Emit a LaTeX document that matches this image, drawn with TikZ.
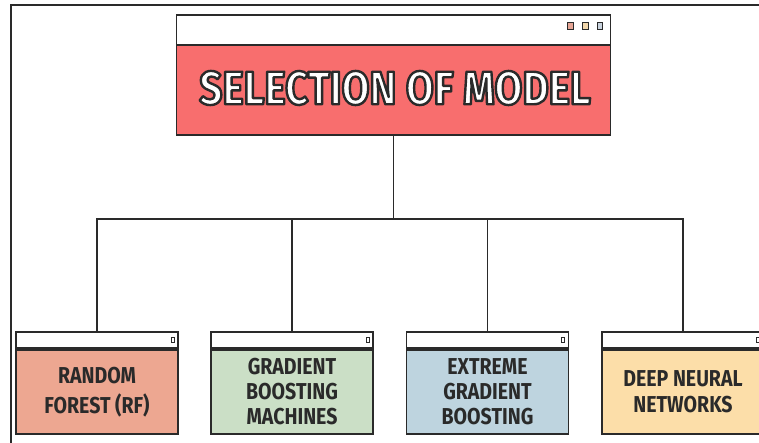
\documentclass[tikz,border=0pt]{standalone}
\usepackage{fontspec}
\setmainfont{Fira Sans}
\newfontfamily\boxfont{Fira Sans}[FakeStretch=0.85]
\newfontfamily\headfont{Fira Sans}[FakeStretch=0.86]
\definecolor{outl}{HTML}{2A2A2A}
\definecolor{redc}{HTML}{F86E6E}
\definecolor{rfc}{HTML}{EDA791}
\definecolor{gbmc}{HTML}{CBDFC6}
\definecolor{xgbc}{HTML}{BED4DF}
\definecolor{dnnc}{HTML}{FCDEA9}
\definecolor{sqa}{HTML}{E6A595}
\definecolor{sqb}{HTML}{F3D8AC}
\definecolor{sqc}{HTML}{C9D3DE}
\newcommand{\outlinedtext}[1]{\textcolor{white}{\special{pdf:literal direct 2 Tr 2.4 w 1 j 0.165 0.165 0.165 RG}#1\special{pdf:literal direct 0 Tr}}}
\tikzset{
  frame/.style={draw=outl, line width=2pt},
  winbar/.style={draw=outl, fill=white, line width=1.8pt, minimum width=162pt, minimum height=16pt, inner sep=0pt},
  winbody/.style={draw=outl, line width=1.8pt, minimum width=162pt, minimum height=84pt, inner sep=0pt,
    align=center, text=outl, font=\boxfont\bfseries\fontsize{23}{25}\selectfont},
  mini/.style={draw=outl, fill=white, line width=1pt, minimum width=3pt, minimum height=5pt, inner sep=0pt},
  dotsq/.style={draw=outl, line width=1pt, minimum width=5.5pt, minimum height=7.5pt, inner sep=0pt},
  conn/.style={draw=outl, line width=1.6pt},
}
\begin{document}
\begin{tikzpicture}[x=1pt,y=-1pt]
\path[use as bounding box, clip] (0,0) rectangle (759,442);
\fill[white] (0,0) rectangle (759,442);
% outer frame
\draw[frame] (10.5,460) -- (10.5,4.5) -- (780,4.5);
% top window
\node[draw=outl, fill=redc, line width=1.8pt, minimum width=434pt, minimum height=90pt, inner sep=0pt] (title) at (393.5,90) {};
\node[draw=outl, fill=white, line width=1.8pt, minimum width=434pt, minimum height=30pt, inner sep=0pt] (titlebar) at (393.5,30) {};
\node[inner sep=0pt] (titletext) at (395,88) {\headfont\bfseries\fontsize{47}{50}\selectfont\outlinedtext{SELECTION OF MODEL}};
\node[dotsq, fill=sqa] (d1) at (570.5,26) {};
\node[dotsq, fill=sqb] (d2) at (585.5,26) {};
\node[dotsq, fill=sqc] (d3) at (600,26) {};
% bottom windows
\node[winbar] (b1) at (97,340) {};
\node[winbody, fill=rfc, anchor=north] (n1) at (b1.south) {RANDOM\\[5pt]FOREST (RF)};
\node[mini] (m1) at (172.5,340) {};
\node[winbar] (b2) at (292,340) {};
\node[winbody, fill=gbmc, anchor=north] (n2) at (b2.south) {GRADIENT\\BOOSTING\\MACHINES};
\node[mini] (m2) at (367.5,340) {};
\node[winbar] (b3) at (487.5,340) {};
\node[winbody, fill=xgbc, anchor=north] (n3) at (b3.south) {EXTREME\\GRADIENT\\BOOSTING};
\node[mini] (m3) at (563,340) {};
\node[winbar] (b4) at (683,340) {};
\node[winbody, fill=dnnc, anchor=north] (n4) at (b4.south) {DEEP NEURAL\\[1pt]NETWORKS};
\node[mini] (m4) at (758,340) {};
% connectors
\draw[conn] (title.south) -- ++(0,83) coordinate (j);
\draw[conn] (b1.north) |- (j) -| (b4.north);
\draw[conn] (b2.north) -- (b2.north |- j);
\draw[conn] (b3.north) -- (b3.north |- j);
\end{tikzpicture}
\end{document}
